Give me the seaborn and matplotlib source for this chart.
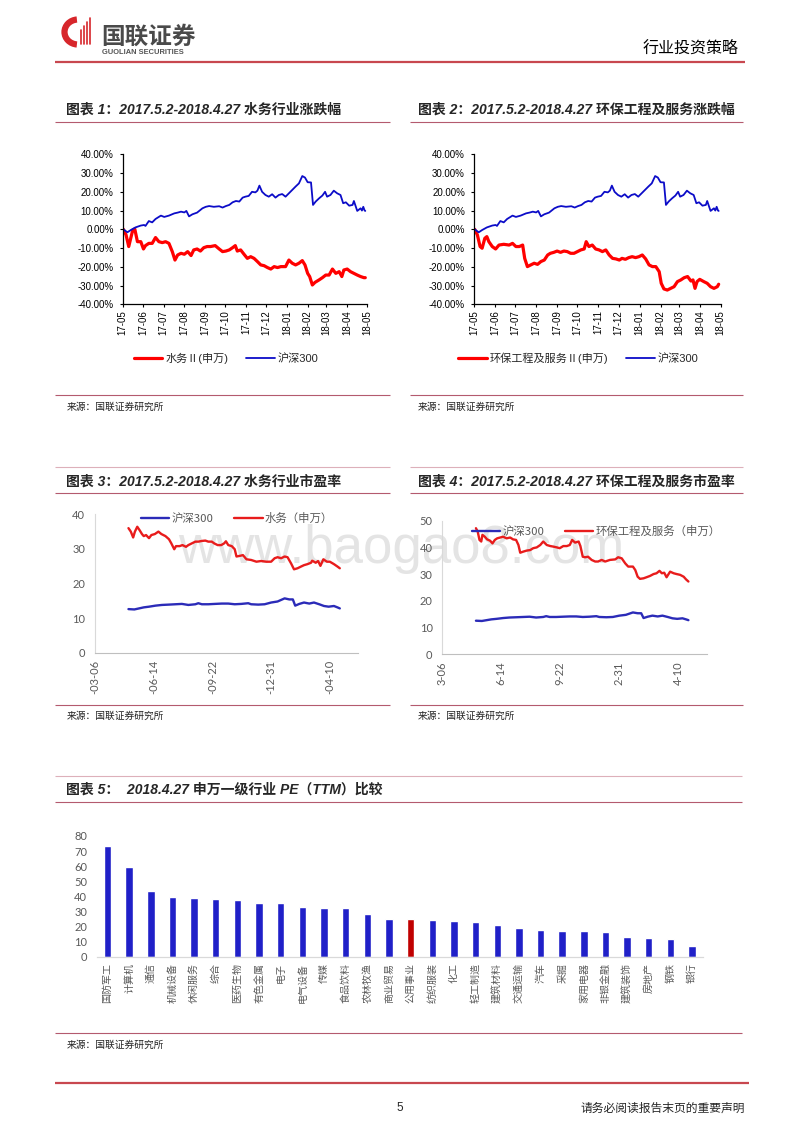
import numpy as np
import pandas as pd
import matplotlib
matplotlib.use("Agg")
import matplotlib.pyplot as plt
import matplotlib.dates as mdates
from matplotlib.ticker import PercentFormatter, MultipleLocator
from matplotlib.patches import Arc
import seaborn as sns

# ---------------- data ----------------
# Charts 1-2: cumulative change (%) since 2017-05-02, x = days after 2017-05-02
hs300_days = [0, 6, 11, 18, 26, 31, 33, 38, 43, 48, 56, 61, 68, 76, 81, 86, 91, 94, 98, 103,
              110, 118, 123, 128, 135, 143, 148, 153, 158, 163, 168, 173, 178, 182, 187, 192, 197, 200, 203, 207,
              212, 217, 222, 227, 232, 237, 242, 247, 252, 257, 262, 267, 271, 275, 280, 283, 287, 292, 297, 301,
              304, 309, 314, 319, 324, 328, 332, 337, 342, 344, 349, 354, 356, 358, 360, 361]
hs300_chg = [0, -1.6, -0.4, 1, 2, 2.3, 1.8, 4.4, 3.7, 5.5, 7.3, 6.6, 7.3, 8.5, 8.9, 9.4, 9, 9.8, 6.9, 8,
             8.9, 11.2, 12, 12.4, 12, 12.3, 11.6, 12.4, 13, 14.4, 15.1, 14.8, 16.9, 17.4, 17.8, 20, 19.7, 20.6, 23.3, 20,
             18.3, 17.4, 18.7, 16.9, 18.3, 18.8, 17.4, 19.2, 21, 22.8, 24.5, 28.4, 27.6, 25.1, 25, 13, 14.8, 16.5, 18, 20,
             17.4, 18.3, 20.6, 19.2, 18.3, 13.9, 14.4, 12.6, 13, 15.1, 9.8, 11.2, 10, 12, 10, 9.8]

water_days = [0, 4, 8, 11, 14, 17, 21, 26, 30, 33, 38, 43, 48, 53, 58, 63, 68, 73, 77, 81,
              86, 91, 96, 101, 105, 110, 115, 120, 125, 130, 137, 143, 148, 153, 158, 163, 167, 170, 175, 180,
              185, 190, 195, 200, 205, 210, 215, 220, 225, 230, 235, 242, 247, 252, 257, 262, 267, 271, 275, 278,
              282, 286, 292, 297, 302, 307, 312, 317, 322, 326, 329, 334, 339, 344, 349, 354, 359, 361]
water_chg = [0, -3, -9.2, -4.8, -0.4, 0.2, -6.6, -6.6, -10.5, -8.7, -7.5, -7.5, -4.4, -6.6, -7.1, -6.6, -7.5, -11.9, -16.4, -13.7,
             -12.8, -13.3, -11.9, -14, -11, -10.5, -11.6, -9.8, -9.2, -9.2, -8.7, -10.5, -11.9, -11.6, -11, -9.8, -8.7, -11.6, -11, -13.3,
             -15.5, -14.6, -15.5, -17.2, -19, -19.4, -20.4, -21.2, -19.9, -20.4, -19.9, -19.9, -16.4, -18.1, -19, -18.1, -16.7, -19, -23.5, -25.2,
             -29.7, -28.3, -27, -25.8, -24.4, -24.4, -21.2, -23.5, -22.6, -25.2, -21.7, -21.2, -22.6, -23.5, -24.4, -25.2, -25.8, -25.8]

env_days = [0, 4, 8, 11, 15, 18, 21, 26, 31, 36, 43, 51, 56, 61, 66, 71, 74, 78, 83, 88,
            93, 98, 103, 108, 112, 117, 122, 127, 132, 137, 142, 147, 152, 157, 162, 165, 169, 174, 179, 184,
            189, 194, 199, 204, 209, 214, 218, 223, 228, 233, 238, 243, 248, 253, 258, 263, 268, 273, 276, 280,
            285, 290, 295, 300, 305, 310, 315, 320, 323, 326, 329, 333, 339, 344, 349, 354, 359, 361]
env_chg = [0, -3, -9.2, -10.1, -4.8, -3.9, -6.6, -9.2, -10.5, -8.4, -8, -8.4, -7.5, -9.2, -9.2, -8.4, -15.5, -19.9, -19, -18.1,
           -18.7, -17.2, -16.4, -13.7, -12.8, -12.3, -11.6, -12.3, -11.6, -11.9, -12.8, -12.8, -11.9, -11, -10.5, -6.6, -9.2, -8.4, -10.5, -11,
           -11.9, -11, -13.7, -15.5, -15.8, -16.4, -15.5, -16, -15.1, -14.6, -15.1, -14.6, -13.7, -15.8, -19, -19.9, -19.9, -22.6, -28.8, -31.8,
           -32.4, -31.5, -30.6, -27.9, -27, -25.8, -25.2, -27.6, -27, -31.5, -27.9, -26.7, -27.9, -28.8, -30.6, -31.5, -30.6, -29.3]

# Charts 3-4: P/E, x = days after 2017-05-02
hs300_pe_days = [0, 10, 18, 26, 35, 46, 57, 69, 80, 91, 102, 114, 119, 125, 136, 147, 159, 170, 181, 192,
                 204, 209, 221, 232, 243, 254, 266, 274, 280, 284, 291, 299, 308, 316, 325, 333, 341, 350, 356, 360]
hs300_pe = [12.6, 12.5, 12.8, 13.1, 13.3, 13.6, 13.8, 13.9, 14.0, 14.1, 13.8, 14.0, 14.3, 14.0, 14.0, 14.1, 14.2, 14.2, 14.0, 14.1,
            14.3, 14.0, 13.9, 14.0, 14.5, 14.8, 15.7, 15.4, 15.4, 13.6, 14.1, 14.5, 14.2, 14.5, 14.0, 13.5, 13.3, 13.5, 13.1, 12.8]

water_pe_days = [0, 4, 8, 11, 15, 19, 23, 26, 30, 35, 39, 45, 51, 56, 63, 69, 73, 78, 81, 87,
                 92, 98, 102, 108, 114, 119, 125, 131, 136, 142, 146, 152, 158, 163, 166, 170, 176, 181, 184, 190,
                 195, 201, 209, 218, 226, 235, 243, 249, 254, 260, 266, 271, 277, 282, 288, 294, 299, 305, 311, 313,
                 319, 323, 327, 332, 338, 343, 350, 356, 360]
water_pe = [36.0, 35.0, 33.3, 35.0, 36.4, 35.4, 34.3, 33.7, 34.0, 33.1, 34.0, 34.3, 35.0, 34.3, 33.7, 32.8, 31.6, 29.9, 30.8, 30.8,
            31.1, 30.6, 31.1, 31.6, 32.1, 32.1, 32.3, 32.4, 32.1, 32.1, 31.6, 31.1, 31.1, 31.6, 32.2, 31.1, 30.8, 29.9, 27.8, 28.0,
            28.2, 27.0, 26.8, 26.3, 26.5, 26.3, 26.3, 27.3, 27.6, 27.3, 27.8, 27.6, 25.8, 24.1, 24.4, 24.9, 25.3, 25.6, 26.0, 26.6,
            26.0, 26.5, 25.1, 27.0, 26.3, 26.3, 25.6, 24.9, 24.4]

env_pe_days = [0, 3, 6, 9, 11, 15, 19, 24, 28, 32, 36, 41, 46, 52, 58, 63, 68, 72, 75, 80,
               86, 92, 97, 103, 109, 114, 120, 126, 131, 137, 142, 148, 154, 159, 163, 168, 174, 177, 181, 185,
               190, 196, 202, 207, 213, 219, 227, 236, 241, 247, 253, 258, 266, 270, 274, 278, 284, 289, 295, 301,
               306, 311, 315, 319, 323, 329, 335, 340, 346, 352, 356, 360]
env_pe = [47.3, 46, 42.9, 42.3, 44.8, 44.1, 43.1, 42.6, 41.6, 42.9, 43.5, 43.8, 44.1, 43.5, 43.8, 43.1, 42.9, 41.0, 38.1, 38.5,
          38.9, 39.1, 39.8, 40.1, 41.0, 42.3, 41.0, 40.6, 40.4, 40.1, 39.8, 40.6, 40.6, 41.0, 42.9, 41.9, 42.3, 40.6, 36.6, 36.4,
          36.6, 35.4, 34.8, 34.8, 35.4, 34.8, 35.4, 35.6, 36.4, 36.0, 34.1, 32.9, 32.9, 31.6, 29.1, 28.3, 28.5, 28.9, 29.4, 30.1,
          30.4, 31.3, 30.4, 30.6, 28.9, 31.0, 30.4, 30.1, 29.8, 29.1, 28.1, 27.3]

pe3_ticklabels = ["-03-06", "-06-14", "-09-22", "-12-31", "-04-10"]
pe4_ticklabels = ["3-06", "6-14", "9-22", "2-31", "4-10"]

# Chart 5: SW level-1 industries PE(TTM) on 2018-04-27
industries = ["国防军工", "计算机", "通信", "机械设备", "休闲服务", "综合", "医药生物", "有色金属", "电子",
              "电气设备", "传媒", "食品饮料", "农林牧渔", "商业贸易", "公用事业", "纺织服装", "化工", "轻工制造",
              "建筑材料", "交通运输", "汽车", "采掘", "家用电器", "非银金融", "建筑装饰", "房地产", "钢铁", "银行"]
industry_pe = [73.4, 59.3, 43.8, 39.4, 38.7, 38.5, 37.4, 35.8, 35.6, 32.7, 32.1, 32.5, 28.3, 25.2,
               25.0, 24.3, 23.7, 23.2, 21.2, 18.8, 17.5, 16.8, 16.8, 16.6, 13.3, 12.6, 11.5, 6.9]
highlight = "公用事业"

# ---------------- style ----------------
sns.set_style("white")
plt.rcParams["font.family"] = ["Liberation Sans", "Noto Sans CJK SC"]
plt.rcParams["axes.unicode_minus"] = False

RED = "#FF0000"
BLUE = "#0C0CC8"
RED2 = "#E81C1C"
BLUE2 = "#2B2BB8"
GRAY_TXT = "#595959"
LINE_DARK = "#B45A6E"
LINE_LIGHT = "#DDB0BA"
CJK = ["Noto Sans CJK SC", "DejaVu Sans"]
NUM = ["Lato", "Noto Sans CJK SC"]

W, H = 800, 1132
fig = plt.figure(figsize=(W / 100, H / 100), dpi=100)


def rect(l, t, r, b):
    return [l / W, 1 - b / H, (r - l) / W, (b - t) / H]


page = fig.add_axes([0, 0, 1, 1])
page.set_xlim(0, W)
page.set_ylim(H, 0)
page.axis("off")


def hline(y, x0, x1, color, lw=0.8):
    page.plot([x0, x1], [y, y], color=color, lw=lw, solid_capstyle="butt")


base = pd.Timestamp("2017-05-02")


def to_dates(days):
    return base + pd.to_timedelta(np.asarray(days), unit="D")


# ---------------- header / footer ----------------
page.add_patch(Arc((78, 32), 27, 25, theta1=95, theta2=265, lw=4.5, color="#D7262B"))
for xx, top in zip([81, 84, 87, 90], [30, 26, 22, 18]):
    page.plot([xx, xx], [top, 44], color="#D7262B", lw=1.2)
page.text(101, 37, "国联证券", fontsize=17, fontweight="bold", color="#4a4a4a",
          family=CJK, ha="left", va="center")
page.text(101.5, 52.5, "GUOLIAN SECURITIES", fontsize=5.4, fontweight="bold", color="#555555",
          ha="left", va="center")
page.text(739, 48.5, "行业投资策略", fontsize=11.5, color="black", family=CJK, ha="right", va="center")
hline(62, 55, 745, "#C8474F", lw=1.6)

hline(1083, 55, 749, "#C8474F", lw=1.6)
page.text(400, 1108, "5", fontsize=8.5, ha="center", va="center")
page.text(745, 1108, "请务必阅读报告末页的重要声明", fontsize=8.5, family=CJK, ha="right", va="center")

# watermark
page.text(401, 563, "www.baogao8.com", fontsize=38, color="#e4e4e4", ha="center", va="baseline",
          family="Liberation Sans")

# section decorations
TITLE_KW = dict(fontsize=10, fontweight="bold", style="italic",
                family=["Liberation Sans", "Noto Sans CJK SC"], ha="left", va="center")
SRC_KW = dict(fontsize=7, family=CJK, ha="left", va="center", color="#222222")

page.text(66.5, 110, "图表 1：2017.5.2-2018.4.27 水务行业涨跌幅", **TITLE_KW)
page.text(418, 110, "图表 2：2017.5.2-2018.4.27 环保工程及服务涨跌幅", **TITLE_KW)
hline(121.7, 55, 390, LINE_DARK)
hline(121.7, 410, 743, LINE_DARK)
hline(395, 55, 390, LINE_DARK)
hline(395, 410, 743, LINE_DARK)
page.text(66.5, 407, "来源：国联证券研究所", **SRC_KW)
page.text(418, 407, "来源：国联证券研究所", **SRC_KW)

hline(467, 55, 390, LINE_LIGHT)
hline(467, 410, 743, LINE_LIGHT)
page.text(66.5, 482, "图表 3：2017.5.2-2018.4.27 水务行业市盈率", **TITLE_KW)
page.text(418, 482, "图表 4：2017.5.2-2018.4.27 环保工程及服务市盈率", **TITLE_KW)
hline(493, 55, 390, LINE_DARK)
hline(493, 410, 743, LINE_DARK)
hline(705, 55, 390, LINE_DARK)
hline(705, 410, 743, LINE_DARK)
page.text(66.5, 716, "来源：国联证券研究所", **SRC_KW)
page.text(418, 716, "来源：国联证券研究所", **SRC_KW)

hline(775.7, 55, 742, LINE_LIGHT)
page.text(66.5, 790, "图表 5：  2018.4.27 申万一级行业 PE（TTM）比较", **TITLE_KW)
hline(802, 55, 742, LINE_DARK)
hline(1033, 55, 742, LINE_DARK)
page.text(66.5, 1045, "来源：国联证券研究所", **SRC_KW)


# ---------------- charts 1 & 2 ----------------
def pct_chart(box, days_a, vals_a, lab_a, legend_center):
    ax = fig.add_axes(rect(*box))
    ax.set_facecolor("none")
    sns.lineplot(x=to_dates(days_a), y=vals_a, ax=ax, color=RED, lw=2.3, label=lab_a)
    sns.lineplot(x=to_dates(hs300_days), y=hs300_chg, ax=ax, color=BLUE, lw=1.3, label="沪深300")
    ax.set_xlim(pd.Timestamp("2017-05-01"), pd.Timestamp("2018-05-01"))
    ax.set_ylim(-40, 40)
    ax.yaxis.set_major_locator(MultipleLocator(10))
    ax.yaxis.set_major_formatter(PercentFormatter(decimals=2))
    ax.xaxis.set_major_locator(mdates.MonthLocator())
    ax.xaxis.set_major_formatter(mdates.DateFormatter("%y-%m"))
    ax.set_xlabel("")
    ax.set_ylabel("")
    for s in ["top", "right"]:
        ax.spines[s].set_visible(False)
    for s in ["left", "bottom"]:
        ax.spines[s].set_color("black")
        ax.spines[s].set_linewidth(0.9)
    ax.tick_params(axis="both", which="major", bottom=True, left=True, direction="out",
                   length=2.5, width=0.8, color="black", labelsize=7, labelcolor="black")
    ax.tick_params(axis="y", pad=4)
    ax.tick_params(axis="x", pad=1.5)
    for lab in ax.get_xticklabels():
        lab.set_rotation(90)
        lab.set_va("top")
        lab.set_ha("center")
    ax.legend(loc="center", bbox_to_anchor=(legend_center[0] / W, 1 - legend_center[1] / H),
              bbox_transform=fig.transFigure, ncol=2, frameon=False, fontsize=8,
              handlelength=2.6, handletextpad=0.25, columnspacing=1.6, borderpad=0)
    return ax


pct_chart((122.7, 154.3, 367.3, 304.3), water_days, water_chg, "水务Ⅱ(申万)", (226, 358))
pct_chart((474, 154.3, 720.7, 304.3), env_days, env_chg, "环保工程及服务Ⅱ(申万)", (578, 358))


# ---------------- charts 3 & 4 ----------------
tick_start = pd.Timestamp("2017-03-06")
pe_ticks = [tick_start + pd.Timedelta(days=100 * k) for k in range(5)]


def pe_chart(box, ymax, red_days, red_vals, red_lab, ticklabels, legend_center):
    ax = fig.add_axes(rect(*box))
    ax.set_facecolor("none")
    sns.lineplot(x=to_dates(hs300_pe_days), y=hs300_pe, ax=ax, color=BLUE2, lw=1.7, label="沪深300")
    sns.lineplot(x=to_dates(red_days), y=red_vals, ax=ax, color=RED2, lw=1.7, label=red_lab)
    ax.set_xlim(tick_start, tick_start + pd.Timedelta(days=448))
    ax.set_ylim(0, ymax)
    ax.set_yticks(list(range(0, ymax + 1, 10)))
    ax.set_xticks(pe_ticks)
    ax.set_xticklabels(ticklabels, rotation=90, va="top", ha="center")
    ax.set_xlabel("")
    ax.set_ylabel("")
    for s in ["top", "right"]:
        ax.spines[s].set_visible(False)
    ax.spines["left"].set_color("#D9D9D9")
    ax.spines["bottom"].set_color("#BFBFBF")
    ax.spines["left"].set_linewidth(0.8)
    ax.spines["bottom"].set_linewidth(0.8)
    ax.tick_params(axis="both", length=0, labelsize=8, labelcolor=GRAY_TXT)
    ax.tick_params(axis="y", pad=7)
    ax.tick_params(axis="x", pad=5)
    for lab in ax.get_xticklabels() + ax.get_yticklabels():
        lab.set_family(NUM)
    leg = ax.legend(loc="center", bbox_to_anchor=(legend_center[0] / W, 1 - legend_center[1] / H),
                    bbox_transform=fig.transFigure, ncol=2, frameon=False, fontsize=8.2,
                    handlelength=2.5, handletextpad=0.2, columnspacing=1.8, borderpad=0)
    for t in leg.get_texts():
        t.set_color(GRAY_TXT)
        t.set_family(CJK)
    return ax


pe_chart((95, 514.3, 358, 652.7), 40, water_pe_days, water_pe, "水务（申万）", pe3_ticklabels, (237, 518))
pe_chart((442.3, 521, 706.7, 654.3), 50, env_pe_days, env_pe, "环保工程及服务（申万）", pe4_ticklabels, (596, 531))

# ---------------- chart 5 ----------------
ax5 = fig.add_axes(rect(96.7, 836, 702.9, 956.7))
ax5.set_facecolor("none")
bar_colors = ["#C00000" if c == highlight else "#2020C8" for c in industries]
sns.barplot(x=industries, y=industry_pe, hue=industries, palette=bar_colors, legend=False,
            saturation=1, width=0.34, ax=ax5)
ax5.set_xlim(-0.5, 27.5)
ax5.set_ylim(0, 80)
ax5.set_yticks(list(range(0, 81, 10)))
ax5.set_xlabel("")
ax5.set_ylabel("")
for s in ["top", "right", "left"]:
    ax5.spines[s].set_visible(False)
ax5.spines["bottom"].set_color("#D9D9D9")
ax5.spines["bottom"].set_linewidth(0.9)
ax5.tick_params(axis="both", length=0, labelcolor=GRAY_TXT)
ax5.tick_params(axis="y", pad=7, labelsize=8)
ax5.tick_params(axis="x", pad=4.5, labelsize=7.2)
for lab in ax5.get_yticklabels():
    lab.set_family(NUM)
for lab in ax5.get_xticklabels():
    lab.set_rotation(90)
    lab.set_va("top")
    lab.set_ha("center")
    lab.set_family(CJK)

fig.savefig("out.png", dpi=100, facecolor="white")
